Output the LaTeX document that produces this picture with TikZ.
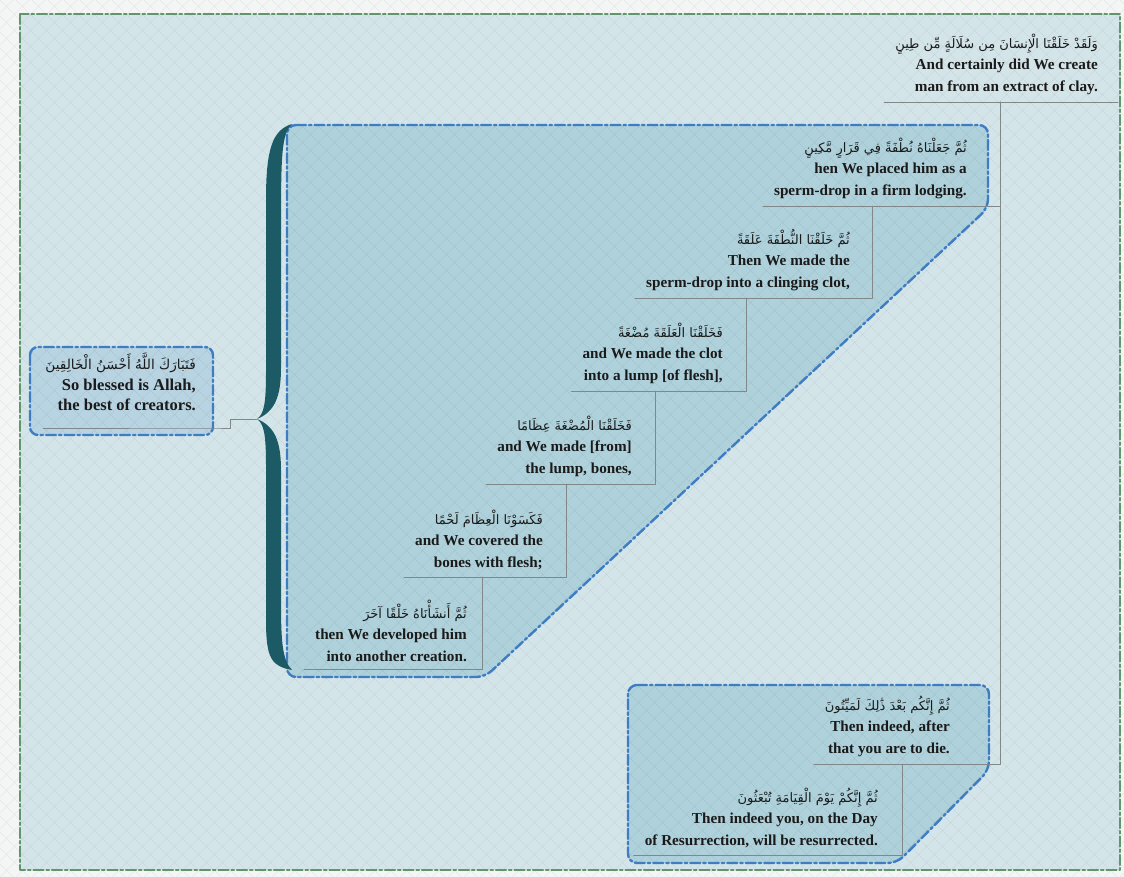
\documentclass[tikz,border=0pt]{standalone}
\usepackage{fontspec}
\setmainfont{Liberation Serif}
\newfontfamily\arabicfont[Script=Arabic]{DejaVu Sans}
\TeXXeTstate=1
\usetikzlibrary{calc}
\definecolor{pagebg}{RGB}{244,246,246}
\definecolor{framebg}{RGB}{212,229,233}
\definecolor{framegreen}{RGB}{98,148,110}
\definecolor{groupfill}{RGB}{174,209,219}
\definecolor{sumfill}{RGB}{184,212,226}
\definecolor{boundblue}{RGB}{62,124,196}
\definecolor{linegray}{RGB}{128,136,138}
\definecolor{bracecol}{RGB}{28,90,102}
\definecolor{textdark}{RGB}{26,26,26}
\newcommand\ayah[2][13]{{\arabicfont\mdseries\fontsize{#1}{21.5}\selectfont\beginR #2\endR}}
\tikzset{
  topic/.style={anchor=south east, align=right, inner xsep=11pt, inner ysep=7pt,
    font=\bfseries\fontsize{15.2}{21.7}\selectfont, text=textdark},
  link/.style={draw=linegray, line width=0.9pt},
  boundary/.style={draw=boundblue, line width=2.4pt, rounded corners=9pt,
    dash pattern=on 10pt off 3pt on 2.5pt off 3pt},
  weave/.style={draw=black, opacity=0.06, line width=0.6pt}
}
\begin{document}
\begin{tikzpicture}[x=1pt,y=-1pt,line cap=round,line join=round]
  \useasboundingbox (0,0) rectangle (1124,877);
  \fill[pagebg] (0,0) rectangle (1124,877);
  \fill[framebg] (20,14) rectangle (1120,870);
  % groups
  \fill[groupfill, rounded corners=9pt] (287,125) -- (988,125) -- (988,208) -- (485,677) -- (287,677) -- cycle;
  \fill[groupfill, rounded corners=9pt] (628,685) -- (989,685) -- (989,770) -- (897,863) -- (628,863) -- cycle;
  \fill[sumfill, rounded corners=8pt] (30,347) rectangle (213,435);
  % background texture
  \begin{scope}
    \clip (0,0) rectangle (1124,877);
    \foreach \k in {-880,-864,...,1130} {
      \draw[weave] (\k,0) -- ++(877,877);
      \draw[weave] (\k,877) -- ++(877,-877);
    }
  \end{scope}
  \draw[framegreen, line width=2.2pt, dash pattern=on 10pt off 3pt on 2.5pt off 3pt] (20,14) rectangle (1120,870);
  \draw[boundary] (287,125) -- (988,125) -- (988,208) -- (485,677) -- (287,677) -- cycle;
  \draw[boundary] (628,685) -- (989,685) -- (989,770) -- (897,863) -- (628,863) -- cycle;
  \draw[boundary, rounded corners=8pt] (30,347) rectangle (213,435);
  % brace
  \fill[bracecol] (292,124) .. controls (272,130) and (266,150) .. (266,200) -- (266,372)
    .. controls (266,404) and (264,414) .. (257,419) .. controls (264,424) and (266,434) .. (266,466)
    -- (266,620) .. controls (266,660) and (272,666) .. (292,670)
    .. controls (282,660) and (281,640) .. (281,600) -- (281,470)
    .. controls (281,440) and (274,426) .. (257,419) .. controls (274,412) and (281,398) .. (281,368)
    -- (281,222) .. controls (281,152) and (282,134) .. (292,124) -- cycle;
  % topics
  \node[topic] (root) at (1109,102) {\ayah{وَلَقَدْ خَلَقْنَا الْإِنسَانَ مِن سُلَالَةٍ مِّن طِينٍ}\\And certainly did We create\\man from an extract of clay.};
  \node[topic] (n2) at (978,206) {\ayah{ثُمَّ جَعَلْنَاهُ نُطْفَةً فِي قَرَارٍ مَّكِينٍ}\\hen We placed him as a\\sperm-drop in a firm lodging.};
  \node[topic] (n3) at (861,298) {\ayah{ثُمَّ خَلَقْنَا النُّطْفَةَ عَلَقَةً}\\Then We made the\\sperm-drop into a clinging clot,};
  \node[topic] (n4) at (734,391) {\ayah{فَخَلَقْنَا الْعَلَقَةَ مُضْغَةً}\\and We made the clot\\into a lump [of flesh],};
  \node[topic] (n5) at (643,484) {\ayah{فَخَلَقْنَا الْمُضْغَةَ عِظَامًا}\\and We made [from]\\the lump, bones,};
  \node[topic] (n6) at (554,577) {\ayah{فَكَسَوْنَا الْعِظَامَ لَحْمًا}\\and We covered the\\bones with flesh;};
  \node[topic] (n7) at (478,669) {\ayah{ثُمَّ أَنشَأْنَاهُ خَلْقًا آخَرَ}\\then We developed him\\into another creation.};
  \node[topic] (death) at (961,764) {\ayah{ثُمَّ إِنَّكُم بَعْدَ ذَٰلِكَ لَمَيِّتُونَ}\\Then indeed, after\\that you are to die.};
  \node[topic] (res) at (889,855) {\ayah{ثُمَّ إِنَّكُمْ يَوْمَ الْقِيَامَةِ تُبْعَثُونَ}\\Then indeed you, on the Day\\of Resurrection, will be resurrected.};
  \node[topic, inner xsep=2pt, inner ysep=17pt, font=\bfseries\fontsize{16.5}{20.5}\selectfont] (sum) at (198,428) {\ayah[13.6]{فَتَبَارَكَ اللَّهُ أَحْسَنُ الْخَالِقِينَ}\\So blessed is Allah,\\the best of creators.};
  % forks
  \coordinate (rootfork) at (1000,102);
  \coordinate (n2fork) at (872,206);
  \coordinate (n3fork) at (746,298);
  \coordinate (n4fork) at (655,391);
  \coordinate (n5fork) at (566,484);
  \coordinate (n6fork) at (482,577);
  \coordinate (deathfork) at (902,764);
  \coordinate (bracetip) at (257,419);
  % connectors
  \draw[link] (root.south west) -- (1118,102);
  \draw[link] (rootfork) |- (n2.south west);
  \draw[link] (rootfork) |- (death.south west);
  \draw[link] (n2fork) |- (n3.south west);
  \draw[link] (n3fork) |- (n4.south west);
  \draw[link] (n4fork) |- (n5.south west);
  \draw[link] (n5fork) |- (n6.south west);
  \draw[link] (n6fork) |- (n7.south west);
  \draw[link] (deathfork) |- (res.south west);
  \draw[link] (sum.south west) -- (213,428) -- (230,428) |- (bracetip);
\end{tikzpicture}
\end{document}
